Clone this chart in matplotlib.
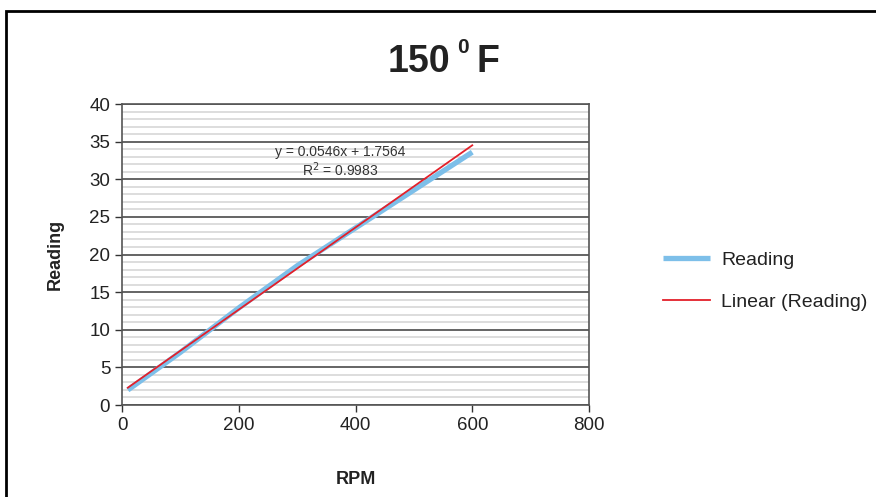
import matplotlib
matplotlib.use("Agg")
import matplotlib.pyplot as plt
from matplotlib.ticker import MultipleLocator
from matplotlib.patches import Rectangle
import numpy as np

plt.rcParams['font.family'] = ['Liberation Sans', 'DejaVu Sans']

# data
rpm = [10, 100, 200, 300, 600]
reading = [2.0, 7.0, 12.9, 18.5, 33.6]

# trendline as printed on the chart
slope = 0.0546
intercept = 1.7564
r_squared = 0.9983

x_ticks = [0, 200, 400, 600, 800]
y_ticks = [0, 5, 10, 15, 20, 25, 30, 35, 40]

fig = plt.figure(figsize=(8.76, 4.97), dpi=100)
ax = fig.add_axes([0.1393, 0.1851, 0.5331, 0.6056])

# minor and major grid
ax.yaxis.set_minor_locator(MultipleLocator(1))
ax.grid(True, which='minor', axis='y', color='#dadada', lw=1.3, zorder=0)
ax.grid(True, which='major', axis='y', color='#3a3a3a', lw=1.1, zorder=0.5)

ax.plot(rpm, reading, color='#7dbfe9', lw=3.8, solid_capstyle='butt', label='Reading', zorder=2)
fit_x = np.array([min(rpm), max(rpm)])
ax.plot(fit_x, slope * fit_x + intercept, color='#e3202a', lw=1.3, label='Linear (Reading)', zorder=3)

ax.set_xlim(0, 800)
ax.set_ylim(0, 40)
ax.set_xticks(x_ticks)
ax.set_yticks(y_ticks)
ax.tick_params(axis='both', which='major', labelsize=13.5, colors='#333333', direction='out', length=5, width=1)
ax.tick_params(axis='y', which='minor', length=0)
for lbl in ax.get_xticklabels() + ax.get_yticklabels():
    lbl.set_color('#222222')
for side in ['left', 'bottom', 'right', 'top']:
    ax.spines[side].set_color('#555555')
    ax.spines[side].set_linewidth(1.2)

ax.set_xlabel('RPM', fontsize=13, fontweight='bold', color='#222222', labelpad=27)
ax.set_ylabel('Reading', fontsize=13, fontweight='bold', color='#222222', labelpad=18)

ax.text(373, 33.6, 'y = %.4fx + %.4f' % (slope, intercept), ha='center', va='center', fontsize=10, color='#333333')
ax.text(373, 31.3, r'R$^2$ = %.4f' % r_squared, ha='center', va='center', fontsize=10, color='#333333')

# title with raised small "0"
fig.text(450 / 876, 0.855, '150', ha='right', va='baseline', fontsize=27, fontweight='bold', color='#222222')
fig.text(463 / 876, 0.893, '0', ha='center', va='baseline', fontsize=15, fontweight='bold', color='#222222')
fig.text(477 / 876, 0.855, 'F', ha='left', va='baseline', fontsize=27, fontweight='bold', color='#222222')

leg = fig.legend(loc='center left', bbox_to_anchor=(0.737, 0.435), frameon=False, fontsize=14,
                 handlelength=2.4, labelspacing=1.25, handletextpad=0.6)
for t in leg.get_texts():
    t.set_color('#222222')

# outer chart border (cut off at right/bottom)
fig.patches.append(Rectangle((6 / 876, -0.1), 1.2, (497 - 11) / 497 + 0.1, transform=fig.transFigure,
                             fill=False, edgecolor='black', lw=2, zorder=10))

fig.savefig('out.png', dpi=100)
